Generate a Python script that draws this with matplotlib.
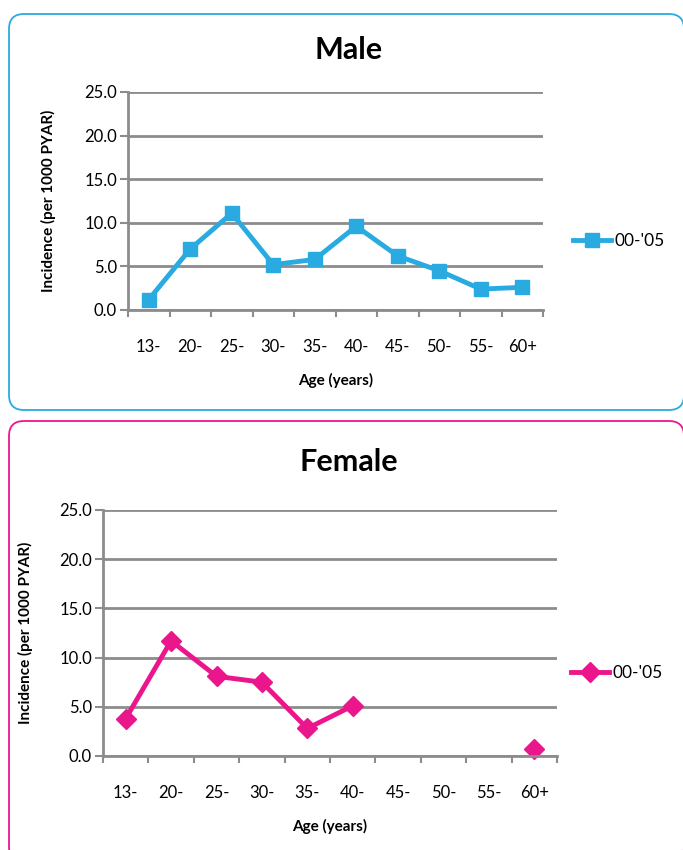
import numpy as np
import matplotlib.pyplot as plt
from matplotlib.patches import FancyBboxPatch

plt.rcParams['font.family'] = ['Lato', 'DejaVu Sans']

ages = ['13-', '20-', '25-', '30-', '35-', '40-', '45-', '50-', '55-', '60+']
male = [1.2, 7.0, 11.1, 5.2, 5.8, 9.6, 6.2, 4.5, 2.4, 2.6]
female = [3.8, 11.7, 8.1, 7.5, 2.8, 5.1, np.nan, np.nan, np.nan, 0.7]
series_name = "00-'05"

blue = '#29abe2'
pink = '#ec168c'
grey = '#8c8c8c'

W, H = 683, 850
fig = plt.figure(figsize=(W / 100, H / 100), dpi=100)

# rounded frames round each chart
def frame(x0, y0, x1, y1, color):
    box = FancyBboxPatch((x0 / W, 1 - y1 / H), (x1 - x0) / W, (y1 - y0) / H,
                         boxstyle='round,pad=0,rounding_size=0.022',
                         transform=fig.transFigure, fill=False,
                         edgecolor=color, linewidth=1.3, mutation_aspect=W / H)
    fig.add_artist(box)

frame(9, 14, 684, 410, blue)
frame(9, 421, 684, 862, pink)


def panel(rect, values, color, marker, msize, title, title_y, leg_xy, ylab_x):
    x0, y0, x1, y1 = rect
    ax = fig.add_axes([x0 / W, 1 - y1 / H, (x1 - x0) / W, (y1 - y0) / H])
    x = np.arange(len(ages))
    ax.plot(x, values, color=color, lw=3.5, marker=marker, ms=msize,
            label=series_name, clip_on=False)
    ax.set_xlim(-0.5, len(ages) - 0.5)
    ax.set_ylim(0, 25)
    ax.set_yticks(np.arange(0, 26, 5))
    ax.set_yticklabels(['%.1f' % v for v in np.arange(0, 26, 5)])
    ax.yaxis.grid(True, color=grey, lw=2)
    ax.set_axisbelow(True)
    ax.set_xticks(np.arange(-0.5, len(ages)), labels=[])
    ax.set_xticks(x, labels=ages, minor=True)
    ax.tick_params(axis='x', which='major', length=5, width=1.5, color=grey, direction='out')
    ax.tick_params(axis='x', which='minor', length=0, pad=21, labelsize=12)
    ax.tick_params(axis='y', length=6, width=1.5, color=grey, pad=2, labelsize=12)
    for s in ['top', 'right']:
        ax.spines[s].set_visible(False)
    for s in ['left', 'bottom']:
        ax.spines[s].set_color(grey)
        ax.spines[s].set_linewidth(2)
    ax.set_xlabel('Age (years)', fontsize=11, fontweight='bold', labelpad=13)
    ax.set_ylabel('Incidence (per 1000 PYAR)', fontsize=11, fontweight='bold')
    ax.yaxis.set_label_coords((ylab_x - x0) / (x1 - x0), 0.5)
    ax.yaxis.label.set_verticalalignment('center')
    fig.text(0.51, 1 - title_y / H, title, ha='center', va='center',
             fontsize=22, fontweight='bold')
    ax.legend(loc='center left', bbox_to_anchor=(leg_xy[0] / W, 1 - leg_xy[1] / H),
              bbox_transform=fig.transFigure, frameon=False, fontsize=12.5,
              handlelength=2.2, handletextpad=0.2, borderaxespad=0)
    return ax


panel((128, 92, 543, 310), male, blue, 's', 10.5, 'Male', 50, (566, 241), 48)
panel((103, 510, 557, 756), female, pink, 'D', 10, 'Female', 462, (564, 673), 25)

fig.savefig('out.png', dpi=100)
